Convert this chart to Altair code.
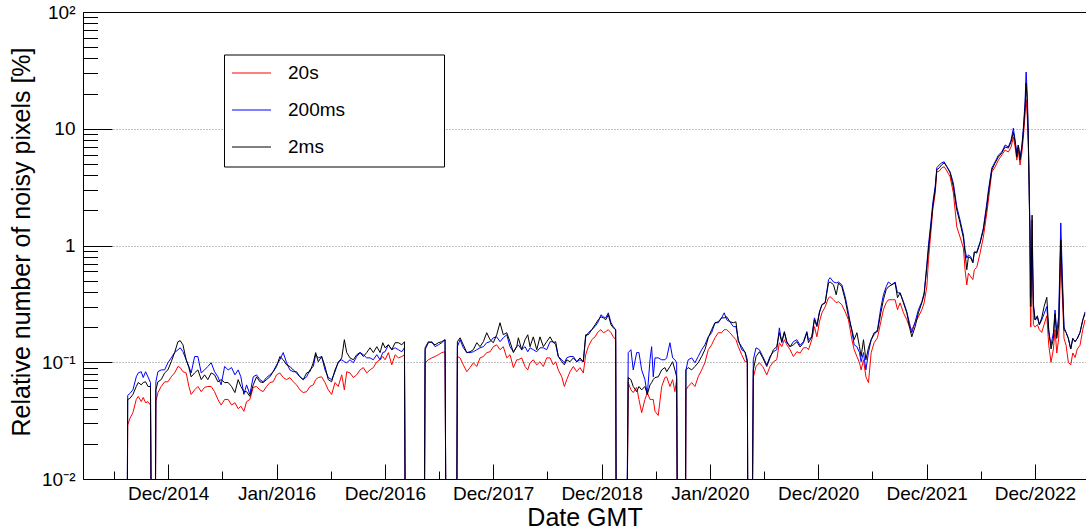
import altair as alt
import numpy as np
import pandas as pd

# ---------------- data ----------------
# dates as decimal years; values in % (0 = no data / zero)
YEARS = [
    2014.614, 2014.626, 2014.646, 2014.674, 2014.705, 2014.723, 2014.751, 2014.769, 2014.791, 2014.813, 2014.836, 2014.854,
    2014.875, 2014.886, 2014.905, 2014.935, 2014.967, 2014.997, 2015.028, 2015.059, 2015.090, 2015.111, 2015.136, 2015.166,
    2015.191, 2015.212, 2015.244, 2015.274, 2015.305, 2015.336, 2015.366, 2015.397, 2015.428, 2015.459, 2015.489, 2015.521,
    2015.554, 2015.585, 2015.616, 2015.646, 2015.671, 2015.699, 2015.724, 2015.754, 2015.785, 2015.816, 2015.847, 2015.877,
    2015.908, 2015.939, 2015.969, 2016.001, 2016.031, 2016.062, 2016.093, 2016.123, 2016.154, 2016.185, 2016.216, 2016.246,
    2016.278, 2016.308, 2016.339, 2016.361, 2016.385, 2016.416, 2016.447, 2016.477, 2016.508, 2016.539, 2016.569, 2016.601,
    2016.625, 2016.647, 2016.677, 2016.708, 2016.739, 2016.770, 2016.800, 2016.831, 2016.862, 2016.892, 2016.924, 2016.954,
    2016.979, 2017.000, 2017.031, 2017.062, 2017.093, 2017.123, 2017.155, 2017.179, 2017.194, 2017.356, 2017.370, 2017.400,
    2017.432, 2017.462, 2017.492, 2017.524, 2017.554, 2017.570, 2017.656, 2017.668, 2017.693, 2017.723, 2017.755, 2017.785,
    2017.815, 2017.847, 2017.877, 2017.908, 2017.939, 2017.970, 2018.000, 2018.031, 2018.062, 2018.092, 2018.124, 2018.154,
    2018.185, 2018.216, 2018.231, 2018.262, 2018.293, 2018.318, 2018.339, 2018.369, 2018.401, 2018.431, 2018.462, 2018.493,
    2018.524, 2018.554, 2018.576, 2018.600, 2018.632, 2018.656, 2018.678, 2018.708, 2018.739, 2018.770, 2018.800, 2018.831,
    2018.853, 2018.877, 2018.909, 2018.939, 2018.969, 2018.994, 2019.016, 2019.038, 2019.062, 2019.087, 2019.108, 2019.130,
    2019.139, 2019.220, 2019.246, 2019.271, 2019.292, 2019.324, 2019.345, 2019.370, 2019.400, 2019.422, 2019.447, 2019.462,
    2019.477, 2019.493, 2019.523, 2019.555, 2019.585, 2019.601, 2019.631, 2019.656, 2019.677, 2019.693, 2019.708, 2019.770,
    2019.779, 2019.800, 2019.832, 2019.862, 2019.892, 2019.924, 2019.954, 2019.985, 2020.016, 2020.047, 2020.077, 2020.108,
    2020.132, 2020.155, 2020.185, 2020.216, 2020.240, 2020.262, 2020.293, 2020.324, 2020.345, 2020.354, 2020.379, 2020.400,
    2020.425, 2020.456, 2020.487, 2020.524, 2020.554, 2020.585, 2020.616, 2020.640, 2020.662, 2020.686, 2020.709, 2020.739,
    2020.769, 2020.801, 2020.831, 2020.862, 2020.893, 2020.908, 2020.939, 2020.963, 2020.986, 2021.009, 2021.032, 2021.062,
    2021.093, 2021.108, 2021.139, 2021.164, 2021.185, 2021.216, 2021.247, 2021.277, 2021.309, 2021.330, 2021.355, 2021.379,
    2021.394, 2021.416, 2021.438, 2021.462, 2021.487, 2021.514, 2021.545, 2021.576, 2021.600, 2021.625, 2021.646, 2021.678,
    2021.708, 2021.730, 2021.754, 2021.785, 2021.816, 2021.840, 2021.862, 2021.893, 2021.923, 2021.955, 2021.976, 2022.001,
    2022.016, 2022.038, 2022.056, 2022.078, 2022.093, 2022.117, 2022.139, 2022.161, 2022.186, 2022.216, 2022.246, 2022.278,
    2022.308, 2022.339, 2022.354, 2022.370, 2022.385, 2022.407, 2022.426, 2022.440, 2022.462, 2022.493, 2022.523, 2022.555,
    2022.570, 2022.601, 2022.631, 2022.662, 2022.693, 2022.724, 2022.754, 2022.779, 2022.800, 2022.816, 2022.832, 2022.846,
    2022.862, 2022.878, 2022.893, 2022.908, 2022.918, 2022.930, 2022.939, 2022.948, 2022.954, 2022.961, 2022.973, 2022.985,
    2023.001, 2023.022, 2023.040, 2023.062, 2023.084, 2023.109, 2023.127, 2023.148, 2023.170, 2023.185, 2023.201, 2023.219,
    2023.238, 2023.253, 2023.268, 2023.287, 2023.308, 2023.330, 2023.349, 2023.370, 2023.391, 2023.416, 2023.441, 2023.462,
]

V_20S = [
    0, .029, .033, .037, .048, .051, .046, .050, .045, .046, .043, 0,
    0, .046, .055, .062, .068, .068, .075, .081, .092, .090, .083, .081,
    .062, .053, .058, .062, .056, .061, .062, .062, .056, .048, .043, .048,
    .048, .043, .045, .040, .042, .038, .046, .048, .061, .062, .058, .056,
    .062, .067, .068, .078, .081, .074, .071, .074, .068, .064, .058, .055,
    .056, .062, .064, .071, .074, .075, .067, .058, .053, .067, .062, .078,
    .058, .083, .081, .074, .078, .086, .090, .081, .086, .090, .101, .105,
    .112, .105, .121, .095, .116, .109, .112, .116, 0, 0, .099, .105,
    .109, .112, .116, .121, .123, 0, 0, .112, .109, .095, .083, .090,
    .099, .092, .109, .112, .121, .123, .136, .141, .128, .136, .109, .116,
    .090, .105, .105, .109, .092, .086, .099, .105, .095, .101, .092, .109,
    .109, .095, .101, .086, .075, .062, .071, .083, .092, .083, .090, .081,
    .116, .136, .156, .165, .183, .190, .179, .183, .190, .179, .165, .156,
    0, 0, .067, .058, .055, .061, .048, .037, .048, .055, .048, .048,
    .048, .038, .035, .062, .074, .075, .062, .071, .056, .071, 0, 0,
    .058, .062, .067, .062, .075, .086, .099, .128, .141, .162, .179, .179,
    .190, .190, .179, .165, .156, .136, .116, .101, .101, 0, 0, .074,
    .092, .099, .092, .078, .092, .101, .105, .147, .136, .156, .141, .128,
    .112, .123, .120, .133, .133, .128, .156, .202, .165, .222, .265, .298,
    .357, .364, .343, .323, .330, .311, .270, .231, .156, .128, .112, .099,
    .086, .105, .075, .067, .121, .147, .162, .222, .282, .323, .343, .343,
    .343, .282, .323, .265, .231, .202, .190, .218, .245, .282, .323, .443,
    .755, 1.28, 2.02, 2.81, 4.27, 4.35, 4.63, 4.73, 4.35, 3.88, 2.82, 1.44,
    1.18, .95, .62, .46, .58, .54, .51, .62, .65, .86, 1.18, 1.90,
    2.45, 4.26, 4.70, 5.39, 5.95, 6.57, 6.32, 6.98, 8.5, 6.98, 5.39, 6.57,
    4.89, 6.20, 8.5, 13.1, 17.7, 11.9, 6.57, 3.17, .39, .20, 1.65, .21,
    .20, .21, .19, .18, .21, .25, .14, .10, .13, .19, .12, .16,
    .80, .36, .16, .14, .10, .095, .12, .11, .13, .14, .19, .23,
]

V_200MS = [
    0, .052, .054, .058, .075, .081, .083, .074, .083, .075, .067, 0,
    0, .068, .083, .086, .086, .099, .109, .121, .128, .133, .123, .105,
    .092, .081, .112, .112, .081, .086, .092, .099, .083, .075, .064, .092,
    .086, .090, .078, .086, .075, .053, .064, .053, .075, .078, .071, .068,
    .074, .078, .083, .095, .105, .121, .099, .086, .083, .083, .075, .071,
    .075, .086, .092, .116, .109, .112, .086, .074, .071, .083, .101, .105,
    .101, .099, .105, .099, .112, .121, .116, .109, .109, .105, .116, .105,
    .121, .123, .141, .128, .133, .128, .123, .133, 0, 0, .128, .147,
    .150, .136, .141, .147, .156, 0, 0, .136, .156, .133, .121, .121,
    .123, .128, .133, .136, .147, .150, .162, .165, .150, .162, .172, .136,
    .123, .136, .141, .128, .136, .123, .133, .128, .123, .133, .133, .128,
    .150, .150, .141, .112, .105, .099, .109, .112, .112, .101, .105, .101,
    .165, .179, .190, .202, .222, .255, .245, .240, .265, .218, .202, .190,
    0, 0, .121, .128, .086, .121, .121, .086, .071, .053, .105, .136,
    .075, .109, .109, .105, .105, .109, .147, .109, .105, .099, 0, 0,
    .086, .105, .109, .099, .112, .128, .141, .165, .179, .218, .218, .240,
    .265, .231, .222, .202, .202, .156, .128, .123, .105, 0, 0, .105,
    .133, .128, .112, .095, .112, .123, .128, .197, .147, .179, .147, .136,
    .150, .156, .140, .150, .183, .156, .165, .240, .209, .270, .311, .323,
    .509, .530, .487, .478, .487, .461, .364, .265, .183, .141, .136, .121,
    .101, .121, .086, .121, .156, .172, .190, .293, .378, .443, .487, .461,
    .487, .393, .393, .330, .270, .218, .179, .222, .282, .330, .393, .684,
    1.01, 1.56, 2.33, 3.20, 4.63, 4.92, 5.11, 5.21, 4.73, 4.27, 3.42, 2.14,
    1.65, 1.23, .92, .78, .83, .80, .72, .88, .88, 1.07, 1.41, 2.31,
    2.99, 4.61, 5.19, 5.95, 6.32, 7.26, 6.98, 8.0, 10.1, 8.0, 6.20, 7.26,
    5.73, 6.98, 10.3, 16.9, 30.6, 18.6, 8.0, 2.45, 1.44, .36, .92, .32,
    .23, .24, .21, .23, .26, .30, .18, .14, .18, .28, .18, .25,
    1.56, .54, .20, .18, .16, .13, .16, .15, .16, .18, .23, .27,
]

V_2MS = [
    0, .048, .049, .053, .062, .067, .064, .067, .068, .062, .062, 0,
    0, .058, .068, .071, .081, .086, .101, .121, .150, .153, .141, .105,
    .090, .075, .081, .086, .071, .078, .071, .081, .078, .068, .071, .067,
    .067, .062, .055, .071, .062, .056, .056, .051, .064, .075, .068, .067,
    .071, .075, .083, .092, .112, .105, .095, .092, .086, .081, .075, .071,
    .081, .083, .099, .121, .101, .112, .092, .071, .068, .086, .099, .109,
    .156, .121, .109, .105, .116, .121, .112, .121, .133, .121, .136, .121,
    .147, .133, .141, .128, .147, .147, .141, .150, 0, 0, .133, .150,
    .147, .141, .147, .150, .156, 0, 0, .150, .162, .141, .121, .123,
    .128, .147, .136, .150, .179, .156, .147, .172, .218, .172, .179, .150,
    .121, .136, .162, .128, .156, .172, .136, .165, .128, .165, .136, .150,
    .165, .147, .150, .112, .101, .095, .105, .101, .109, .101, .109, .101,
    .172, .172, .190, .209, .231, .245, .240, .231, .255, .209, .197, .190,
    0, 0, .074, .071, .062, .056, .062, .058, .062, .053, .064, .067,
    .071, .074, .075, .086, .090, .083, .092, .101, .086, .075, 0, 0,
    .086, .090, .086, .092, .099, .112, .128, .162, .190, .218, .222, .240,
    .240, .245, .222, .218, .222, .150, .136, .121, .099, 0, 0, .086,
    .112, .123, .109, .092, .109, .128, .136, .179, .150, .183, .150, .136,
    .141, .150, .135, .147, .179, .147, .165, .231, .202, .265, .311, .323,
    .478, .487, .461, .378, .478, .443, .343, .245, .190, .156, .179, .136,
    .112, .156, .105, .133, .156, .179, .183, .265, .343, .418, .443, .461,
    .478, .357, .393, .323, .265, .202, .165, .202, .265, .323, .378, .655,
    .920, 1.44, 2.15, 3.00, 4.46, 4.63, 4.92, 5.11, 4.73, 4.19, 3.17, 2.01,
    1.56, 1.16, .86, .62, .80, .78, .71, .88, .86, 1.05, 1.36, 2.14,
    2.82, 4.43, 5.09, 5.73, 6.20, 6.98, 6.84, 7.72, 9.3, 7.72, 5.73, 7.26,
    5.39, 6.84, 9.6, 15.3, 24.6, 15.3, 7.5, 2.14, 1.28, .30, 1.82, .30,
    .23, .25, .21, .24, .30, .36, .19, .13, .16, .26, .16, .21,
    1.12, .44, .19, .18, .16, .13, .16, .15, .16, .18, .23, .26,
]

SERIES = ["20s", "200ms", "2ms"]
COLORS = ["#ff0000", "#0000ff", "#000000"]

X_RANGE_YEARS = [2014.213, 2023.471]
FIRST_TICK = "2014-12-31T21:00:00Z"
TICK_STEP_DAYS = 365.25
N_MAJOR = 9
Y_RANGE = [0.01, 100]
Y_MAJOR = [0.01, 0.1, 1, 10, 100]
Y_MAJOR_TEXT = ["10⁻²", "10⁻¹", "1", "10", "10²"]
X_TITLE = "Date GMT"
Y_TITLE = "Relative number of noisy pixels [%]"
ZERO_FLOOR = 1e-4

# ---------------- layout ----------------
W, H = 1003, 467
PAD = {"left": 83, "top": 12, "right": 0, "bottom": 52}
FONT = "Liberation Sans"

assert len(YEARS) == len(V_20S) == len(V_200MS) == len(V_2MS)


def year_to_ms(y):
    yr = int(np.floor(y))
    s = pd.Timestamp(year=yr, month=1, day=1, tz="UTC")
    e = pd.Timestamp(year=yr + 1, month=1, day=1, tz="UTC")
    return int((s + (e - s) * (y - yr)).value // 10**6)


def ts_ms(ts):
    return int(ts.value // 10**6)


records = []
for name, vals in zip(SERIES, (V_20S, V_200MS, V_2MS)):
    for yr, v in zip(YEARS, vals):
        records.append({"t": year_to_ms(yr), "series": name, "v": max(v, ZERO_FLOOR)})
df = pd.DataFrame(records)

t0 = pd.Timestamp(FIRST_TICK)
major_x = [ts_ms(t0 + pd.Timedelta(days=TICK_STEP_DAYS * k)) for k in range(N_MAJOR)]
minor_x = [ts_ms(t0 + pd.Timedelta(days=TICK_STEP_DAYS * (k + 0.5))) for k in range(-1, N_MAJOR - 1)]
all_x = sorted(major_x + minor_x)
x_dom = [year_to_ms(X_RANGE_YEARS[0]), year_to_ms(X_RANGE_YEARS[1])]

y_ticks = [m * 10.0 ** e for e in range(-2, 2) for m in range(1, 10)] + [100.0]

y_label_expr = ""
for val, txt in zip(Y_MAJOR, Y_MAJOR_TEXT):
    y_label_expr += f"abs(datum.value - {val}) < {val} * 0.001 ? '{txt}' : "
y_label_expr += "''"

is_major_x = "utcmonth(datum.value) == 11 || utcmonth(datum.value) == 0"
is_major_y = "abs(log(datum.value) / LN10 - round(log(datum.value) / LN10)) < 0.001"

x_scale = alt.Scale(type="utc", domain=x_dom, nice=False)
y_scale = alt.Scale(type="log", domain=Y_RANGE, nice=False)

# legend symbol: a 39 px stroke; the trailing move-to (nothing drawn) widens the
# legend box to the width of the reference's ROOT legend
LEGEND_SYMBOL = "M-2.1667,0H2.1667M20.07,0"
legend = alt.Legend(
    orient="none", legendX=141, legendY=42.5, direction="vertical",
    strokeColor="black", fillColor="white", padding=9, cornerRadius=0,
    symbolType=LEGEND_SYMBOL, symbolSize=324, symbolStrokeWidth=1, symbolOffset=9,
    labelFont=FONT, labelFontSize=19, labelColor="black", labelOffset=27, labelLimit=400,
    rowPadding=17,
)
color = alt.Color("series:N", scale=alt.Scale(domain=SERIES, range=COLORS), title=None, legend=legend)

ax_bottom = alt.Axis(
    orient="bottom", values=major_x, labelExpr="utcFormat(datum.value, '%b/%Y')",
    ticks=False, grid=False, domain=True, domainColor="black", domainWidth=1,
    labelFont=FONT, labelFontSize=19, labelColor="black", labelBaseline="alphabetic",
    labelPadding=20, labelFlush=False, labelOverlap=False,
    title=X_TITLE, titleFont=FONT, titleFontSize=25, titleFontWeight="normal",
    titleColor="black", titleBaseline="alphabetic", titleY=46,
)
ax_left = alt.Axis(
    orient="left", values=Y_MAJOR, labelExpr=y_label_expr,
    ticks=False, grid=True, gridColor="#808080", gridDash=[1, 2], gridWidth=1,
    domain=True, domainColor="black", domainWidth=1,
    labelFont=FONT, labelFontSize=19, labelColor="black", labelPadding=8,
    labelBaseline="middle", labelAlign="right", labelFlush=False, labelOverlap=False,
    title=Y_TITLE, titleFont=FONT, titleFontSize=25, titleFontWeight="normal",
    titleColor="black", titleBaseline="alphabetic", titleX=-54, titleY=229.5,
)
ax_xticks = alt.Axis(
    orient="top", offset=-H, values=all_x, labels=False, domain=False, grid=False,
    ticks=True, tickColor="black", tickWidth=1,
    tickSize={"condition": {"test": is_major_x, "value": 15}, "value": 8},
    title=None,
)
ax_yticks = alt.Axis(
    orient="right", offset=-W, values=y_ticks, labels=False, domain=False, grid=False,
    ticks=True, tickColor="black", tickWidth=1,
    tickSize={"condition": {"test": is_major_y, "value": 29}, "value": 14.5},
    title=None,
)
ax_top = alt.Axis(
    orient="top", labels=False, ticks=False, grid=False, domain=True,
    domainColor="black", domainWidth=1, title=None,
)

base = alt.Chart(df)


def series_layer(name, xaxis, yaxis):
    return base.transform_filter(alt.datum.series == name).mark_line(
        clip=True, strokeWidth=1
    ).encode(
        x=alt.X("t:T", scale=x_scale, axis=xaxis),
        y=alt.Y("v:Q", scale=y_scale, axis=yaxis),
        color=color,
    )


l1 = series_layer("20s", ax_bottom, ax_left)
l2 = series_layer("200ms", ax_xticks, ax_yticks)
l3 = series_layer("2ms", ax_top, None)

chart = (
    alt.layer(l1, l2, l3)
    .resolve_axis(x="independent", y="independent")
    .properties(width=W, height=H, padding=PAD, autosize=alt.AutoSizeParams(type="none"),
                background="white")
    .configure_view(stroke="transparent")
)

chart.save("out.html", embed_options={"renderer": "svg", "actions": False})
